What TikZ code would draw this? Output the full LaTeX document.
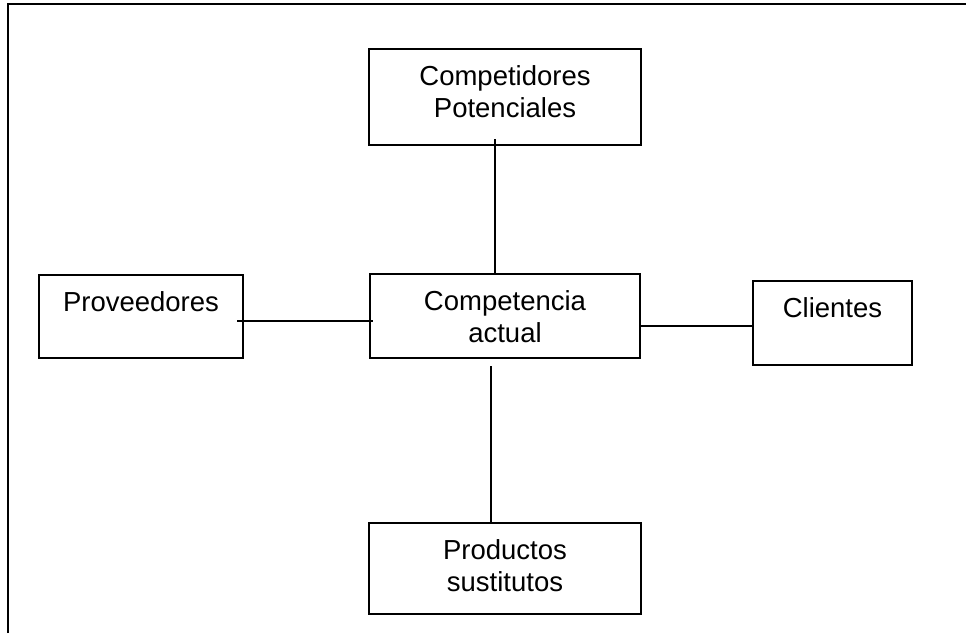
\documentclass[tikz,border=0pt]{standalone}
\usepackage{fontspec}
\setmainfont{Liberation Sans}
\usepackage{tikz}
\usetikzlibrary{calc}
\tikzstyle{block} = [draw, line width=1.8pt, inner sep=0pt, outer sep=0pt,
  align=center, text height=36pt, anchor=north west,
  font=\fontsize{27.5}{32}\selectfont]
\tikzstyle{link} = [line width=1.8pt]

\begin{document}
\begin{tikzpicture}[x=1pt, y=-1pt]
  \useasboundingbox (0,0) rectangle (966,633);
  % Outer frame
  \draw[line width=2pt] (8,633) -- (8,4) -- (966,4);

  % Centre node
  \node [block, text width=270pt, text depth=48pt] (actual) at (370,274)
  {Competencia\\actual};

  % Nodes around the centre one
  \node [block, text width=272pt, text depth=60pt] (comp) at (369,49)
  {Competidores\\Potenciales};
  \node [block, text width=204pt, text depth=47pt] (prov) at (39,275)
  {Proveedores};
  \node [block, text width=159pt, text depth=48pt] (cli) at (753,281)
  {Clientes};
  \node [block, text width=272pt, text depth=55pt] (sust) at (369,523)
  {Productos\\sustitutos};

  % Lines
  \draw [link] ([xshift=-10pt,yshift=6pt]comp.south) -- ([xshift=-10pt]actual.north);
  \draw [link] ([xshift=-14pt,yshift=-8pt]actual.south) -- ([xshift=-14pt]sust.north);
  \draw [link] ([xshift=-6pt,yshift=-4.5pt]prov.east) -- ([xshift=3pt,yshift=-5pt]actual.west);
  \draw [link] ([yshift=-10pt]actual.east) -- ([yshift=-10pt]actual.east -| cli.west);
\end{tikzpicture}
\end{document}
